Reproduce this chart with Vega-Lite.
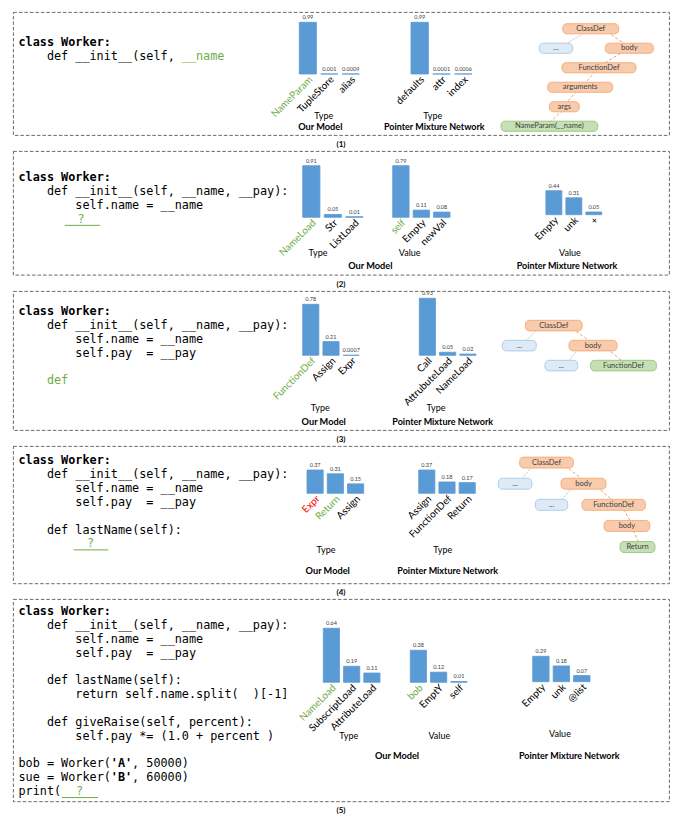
{
"$schema": "https://vega.github.io/schema/vega-lite/v6.json",
"background": "#ffffff",
"padding": {"left": 12, "top": 11, "right": 5, "bottom": 3},
"spacing": 0,
"config": {
  "view": {"stroke": "#595959", "strokeDash": [3.5, 2], "strokeWidth": 0.9},
  "title": {"font": "Lato", "fontSize": 8, "fontWeight": "bold", "color": "#000000", "orient": "bottom", "offset": 6, "anchor": "middle"}
},
"vconcat": [
{
  "width": 656, "height": 123,
  "title": {"text": "(1)"},
  "resolve": {"scale": {"x": "independent", "y": "independent"}},
  "layer": [
    {
      "data": {"values": [
        {"line": 0, "col": 0, "s": "class Worker:", "c": "k", "b": 1},
        {"line": 1, "col": 4, "s": "def __init__(self,", "c": "k", "b": 0},
        {"line": 1, "col": 23, "s": "__name", "c": "g", "b": 0}
      ]},
      "encoding": {
        "x": {"field": "col", "type": "quantitative", "axis": null, "scale": {"domain": [0, 100], "range": [5.5, 715.5]}},
        "y": {"field": "line", "type": "quantitative", "axis": null, "scale": {"domain": [0, 10], "range": [30.3, 170.3]}},
        "color": {"field": "c", "type": "nominal", "legend": null, "scale": {"domain": ["k", "g", "r"], "range": ["#000000", "#70ad47", "#ff0000"]}}
      },
      "layer": [
        {"transform": [{"filter": "datum.b == 0"}], "mark": {"type": "text", "align": "left", "baseline": "middle", "font": "DejaVu Sans Mono", "fontSize": 11.8}, "encoding": {"text": {"field": "s"}}},
        {"transform": [{"filter": "datum.b == 1"}], "mark": {"type": "text", "align": "left", "baseline": "middle", "font": "DejaVu Sans Mono", "fontSize": 11.8, "fontWeight": "bold"}, "encoding": {"text": {"field": "s"}}}
      ]
    },
    {
      "data": {"values": [
        {"cat": "NameParam", "v": 0.99, "lab": "0.99", "c": "g"},
        {"cat": "TupleStore", "v": 0.001, "lab": "0.001", "c": "k"},
        {"cat": "alias", "v": 0.0009, "lab": "0.0009", "c": "k"}
      ]},
      "encoding": {
        "x": {"field": "cat", "type": "nominal", "axis": null, "scale": {"type": "band", "domain": ["NameParam", "TupleStore", "alias"], "range": [286.3, 346.3], "paddingInner": 0.2, "paddingOuter": 0}},
        "y": {"field": "v", "type": "quantitative", "axis": null, "scale": {"domain": [0, 0.99], "range": [62, 10.3]}}
      },
      "layer": [
        {"mark": {"type": "bar", "fill": "#5b9bd5", "stroke": "#5b9bd5", "strokeWidth": 0.8}},
        {"mark": {"type": "text", "font": "Lato", "fontSize": 5.5, "fill": "#404040", "baseline": "bottom", "dy": -2}, "encoding": {"text": {"field": "lab"}}},
        {"mark": {"type": "text", "font": "Lato", "fontSize": 10, "angle": 315, "align": "right", "baseline": "middle", "xOffset": 3, "yOffset": 4}, "encoding": {"y": {"datum": 0}, "text": {"field": "cat"}, "color": {"field": "c", "type": "nominal", "legend": null, "scale": {"domain": ["k", "g", "r"], "range": ["#000000", "#70ad47", "#ff0000"]}}}},
        {"transform": [{"filter": "datum.cat == 'TupleStore'"}], "mark": {"type": "text", "text": "Type", "font": "Lato", "fontSize": 9, "fill": "#000000", "xOffset": -5.6, "yOffset": 41.7}, "encoding": {"y": {"datum": 0}}},
        {"transform": [{"filter": "datum.cat == 'TupleStore'"}], "mark": {"type": "text", "text": "Our Model", "font": "Lato", "fontSize": 9.2, "fontWeight": "bold", "fill": "#000000", "xOffset": -9, "yOffset": 53.3}, "encoding": {"y": {"datum": 0}}}
      ]
    },
    {
      "data": {"values": [
        {"cat": "defaults", "v": 0.99, "lab": "0.99", "c": "k"},
        {"cat": "attr", "v": 0.0001, "lab": "0.0001", "c": "k"},
        {"cat": "index", "v": 0.0006, "lab": "0.0006", "c": "k"}
      ]},
      "encoding": {
        "x": {"field": "cat", "type": "nominal", "axis": null, "scale": {"type": "band", "domain": ["defaults", "attr", "index"], "range": [398, 459], "paddingInner": 0.2, "paddingOuter": 0}},
        "y": {"field": "v", "type": "quantitative", "axis": null, "scale": {"domain": [0, 0.99], "range": [62, 10.3]}}
      },
      "layer": [
        {"mark": {"type": "bar", "fill": "#5b9bd5", "stroke": "#5b9bd5", "strokeWidth": 0.8}},
        {"mark": {"type": "text", "font": "Lato", "fontSize": 5.5, "fill": "#404040", "baseline": "bottom", "dy": -2}, "encoding": {"text": {"field": "lab"}}},
        {"mark": {"type": "text", "font": "Lato", "fontSize": 10, "angle": 315, "align": "right", "baseline": "middle", "xOffset": 3, "yOffset": 4}, "encoding": {"y": {"datum": 0}, "text": {"field": "cat"}, "color": {"field": "c", "type": "nominal", "legend": null, "scale": {"domain": ["k", "g", "r"], "range": ["#000000", "#70ad47", "#ff0000"]}}}},
        {"transform": [{"filter": "datum.cat == 'attr'"}], "mark": {"type": "text", "text": "Type", "font": "Lato", "fontSize": 9, "fill": "#000000", "xOffset": -8.8, "yOffset": 41.7}, "encoding": {"y": {"datum": 0}}},
        {"transform": [{"filter": "datum.cat == 'attr'"}], "mark": {"type": "text", "text": "Pointer Mixture Network", "font": "Lato", "fontSize": 9, "fontWeight": "bold", "fill": "#000000", "xOffset": -7.2, "yOffset": 53.3}, "encoding": {"y": {"datum": 0}}}
      ]
    },
    {
      "encoding": {
        "x": {"field": "x", "type": "quantitative", "axis": null, "scale": {"domain": [0, 656], "range": [0, 656]}},
        "y": {"field": "lv", "type": "ordinal", "axis": null, "scale": {"type": "band", "domain": [0, 1, 2, 3, 4, 5], "range": [7, 124], "paddingInner": 0.48, "paddingOuter": 0.24}}
      },
      "layer": [
        {"data": {"values": [{"e": "a", "lv": 0, "x": 578}, {"e": "a", "lv": 1, "x": 546}]}, "mark": {"type": "line", "stroke": "#a6a6a6", "strokeWidth": 0.8, "strokeDash": [1, 1]}, "encoding": {"detail": {"field": "e"}}},
        {"data": {"values": [
          {"e": "b", "lv": 1, "x": 618}, {"e": "b", "lv": 0, "x": 590},
          {"e": "c", "lv": 2, "x": 584}, {"e": "c", "lv": 1, "x": 616},
          {"e": "d", "lv": 3, "x": 568}, {"e": "d", "lv": 2, "x": 586},
          {"e": "f", "lv": 4, "x": 550}, {"e": "f", "lv": 3, "x": 567},
          {"e": "g", "lv": 5, "x": 533}, {"e": "g", "lv": 4, "x": 553}
        ]}, "mark": {"type": "line", "stroke": "#f4a26b", "strokeWidth": 1, "strokeDash": [3, 2]}, "encoding": {"detail": {"field": "e"}}},
        {"data": {"values": [
          {"n": "ClassDef", "lv": 0, "x0": 549.7, "x1": 605.7, "cx": 577.7, "t": "o"},
          {"n": "...", "lv": 1, "x0": 526.3, "x1": 559.7, "cx": 543, "t": "b"},
          {"n": "body", "lv": 1, "x0": 592.3, "x1": 640.3, "cx": 616.3, "t": "o"},
          {"n": "FunctionDef", "lv": 2, "x0": 549, "x1": 623, "cx": 586, "t": "o"},
          {"n": "arguments", "lv": 3, "x0": 534.7, "x1": 599.7, "cx": 567.2, "t": "o"},
          {"n": "args", "lv": 4, "x0": 536.3, "x1": 566.3, "cx": 551.3, "t": "o"},
          {"n": "NameParam(__name)", "lv": 5, "x0": 488, "x1": 584.7, "cx": 536.3, "t": "g"}
        ]},
         "layer": [
           {"mark": {"type": "rect", "cornerRadius": 4, "strokeWidth": 0.8}, "encoding": {"x": {"field": "x0", "type": "quantitative"}, "x2": {"field": "x1"}, "fill": {"field": "t", "type": "nominal", "legend": null, "scale": {"domain": ["o", "b", "g"], "range": ["#f8cbad", "#deebf7", "#c5e0b4"]}}, "stroke": {"field": "t", "type": "nominal", "legend": null, "scale": {"domain": ["o", "b", "g"], "range": ["#f4a26b", "#9dc3e6", "#8fbf6f"]}}}},
           {"mark": {"type": "text", "font": "Lato", "fontSize": 7.5, "fill": "#404040"}, "encoding": {"x": {"field": "cx", "type": "quantitative"}, "text": {"field": "n"}}}
         ]}
      ]
    }
  ]
},
{
  "width": 656, "height": 123.7,
  "title": {"text": "(2)"},
  "resolve": {"scale": {"x": "independent", "y": "independent"}},
  "layer": [
    {
      "data": {"values": [
        {"line": 0, "col": 0, "s": "class Worker:", "c": "k", "b": 1},
        {"line": 1, "col": 4, "s": "def __init__(self, __name, __pay):", "c": "k", "b": 0},
        {"line": 2, "col": 8, "s": "self.name = __name", "c": "k", "b": 0},
        {"line": 3, "col": 6.5, "col2": 11.5, "c": "g", "b": 2},
        {"line": 3, "col": 8.3, "s": "?", "c": "g", "b": 0}
      ]},
      "encoding": {
        "x": {"field": "col", "type": "quantitative", "axis": null, "scale": {"domain": [0, 100], "range": [5.5, 715.5]}},
        "y": {"field": "line", "type": "quantitative", "axis": null, "scale": {"domain": [0, 10], "range": [26.3, 164.8]}},
        "color": {"field": "c", "type": "nominal", "legend": null, "scale": {"domain": ["k", "g", "r"], "range": ["#000000", "#70ad47", "#ff0000"]}}
      },
      "layer": [
        {"transform": [{"filter": "datum.b == 0"}], "mark": {"type": "text", "align": "left", "baseline": "middle", "font": "DejaVu Sans Mono", "fontSize": 11.8}, "encoding": {"text": {"field": "s"}}},
        {"transform": [{"filter": "datum.b == 1"}], "mark": {"type": "text", "align": "left", "baseline": "middle", "font": "DejaVu Sans Mono", "fontSize": 11.8, "fontWeight": "bold"}, "encoding": {"text": {"field": "s"}}},
        {"transform": [{"filter": "datum.b == 2"}], "mark": {"type": "rule", "strokeWidth": 1, "yOffset": 6.5}, "encoding": {"x2": {"field": "col2"}}}
      ]
    },
    {
      "data": {"values": [
        {"cat": "NameLoad", "v": 0.91, "lab": "0.91", "c": "g"},
        {"cat": "Str", "v": 0.05, "lab": "0.05", "c": "k"},
        {"cat": "ListLoad", "v": 0.01, "lab": "0.01", "c": "k"}
      ]},
      "encoding": {
        "x": {"field": "cat", "type": "nominal", "axis": null, "scale": {"type": "band", "domain": ["NameLoad", "Str", "ListLoad"], "range": [289.7, 350], "paddingInner": 0.2, "paddingOuter": 0}},
        "y": {"field": "v", "type": "quantitative", "axis": null, "scale": {"domain": [0, 0.91], "range": [66.3, 14.7]}}
      },
      "layer": [
        {"mark": {"type": "bar", "fill": "#5b9bd5", "stroke": "#5b9bd5", "strokeWidth": 0.8}},
        {"mark": {"type": "text", "font": "Lato", "fontSize": 5.5, "fill": "#404040", "baseline": "bottom", "dy": -2}, "encoding": {"text": {"field": "lab"}}},
        {"mark": {"type": "text", "font": "Lato", "fontSize": 10, "angle": 315, "align": "right", "baseline": "middle", "xOffset": 3, "yOffset": 4}, "encoding": {"y": {"datum": 0}, "text": {"field": "cat"}, "color": {"field": "c", "type": "nominal", "legend": null, "scale": {"domain": ["k", "g", "r"], "range": ["#000000", "#70ad47", "#ff0000"]}}}},
        {"transform": [{"filter": "datum.cat == 'Str'"}], "mark": {"type": "text", "text": "Type", "font": "Lato", "fontSize": 9, "fill": "#000000", "xOffset": -14.8, "yOffset": 35.7}, "encoding": {"y": {"datum": 0}}},
        {"transform": [{"filter": "datum.cat == 'Str'"}], "mark": {"type": "text", "text": "Our Model", "font": "Lato", "fontSize": 9.2, "fontWeight": "bold", "fill": "#000000", "xOffset": 37.45, "yOffset": 48.4}, "encoding": {"y": {"datum": 0}}}
      ]
    },
    {
      "data": {"values": [
        {"cat": "self", "v": 0.79, "lab": "0.79", "c": "g"},
        {"cat": "Empty", "v": 0.11, "lab": "0.11", "c": "k"},
        {"cat": "newVal", "v": 0.08, "lab": "0.08", "c": "k"}
      ]},
      "encoding": {
        "x": {"field": "cat", "type": "nominal", "axis": null, "scale": {"type": "band", "domain": ["self", "Empty", "newVal"], "range": [379.7, 437], "paddingInner": 0.2, "paddingOuter": 0}},
        "y": {"field": "v", "type": "quantitative", "axis": null, "scale": {"domain": [0, 0.79], "range": [66.3, 14.7]}}
      },
      "layer": [
        {"mark": {"type": "bar", "fill": "#5b9bd5", "stroke": "#5b9bd5", "strokeWidth": 0.8}},
        {"mark": {"type": "text", "font": "Lato", "fontSize": 5.5, "fill": "#404040", "baseline": "bottom", "dy": -2}, "encoding": {"text": {"field": "lab"}}},
        {"mark": {"type": "text", "font": "Lato", "fontSize": 10, "angle": 315, "align": "right", "baseline": "middle", "xOffset": 3, "yOffset": 4}, "encoding": {"y": {"datum": 0}, "text": {"field": "cat"}, "color": {"field": "c", "type": "nominal", "legend": null, "scale": {"domain": ["k", "g", "r"], "range": ["#000000", "#70ad47", "#ff0000"]}}}},
        {"transform": [{"filter": "datum.cat == 'Empty'"}], "mark": {"type": "text", "text": "Value", "font": "Lato", "fontSize": 9, "fill": "#000000", "xOffset": -11.7, "yOffset": 35.7}, "encoding": {"y": {"datum": 0}}}
      ]
    },
    {
      "data": {"values": [
        {"cat": "Empty", "v": 0.44, "lab": "0.44", "c": "k"},
        {"cat": "unk", "v": 0.31, "lab": "0.31", "c": "k"},
        {"cat": "+", "v": 0.05, "lab": "0.05", "c": "k"}
      ]},
      "encoding": {
        "x": {"field": "cat", "type": "nominal", "axis": null, "scale": {"type": "band", "domain": ["Empty", "unk", "+"], "range": [532.9, 588.8], "paddingInner": 0.2, "paddingOuter": 0}},
        "y": {"field": "v", "type": "quantitative", "axis": null, "scale": {"domain": [0, 0.44], "range": [63.7, 39.7]}}
      },
      "layer": [
        {"mark": {"type": "bar", "fill": "#5b9bd5", "stroke": "#5b9bd5", "strokeWidth": 0.8}},
        {"mark": {"type": "text", "font": "Lato", "fontSize": 5.5, "fill": "#404040", "baseline": "bottom", "dy": -2}, "encoding": {"text": {"field": "lab"}}},
        {"mark": {"type": "text", "font": "Lato", "fontSize": 10, "angle": 315, "align": "right", "baseline": "middle", "xOffset": 3, "yOffset": 4}, "encoding": {"y": {"datum": 0}, "text": {"field": "cat"}, "color": {"field": "c", "type": "nominal", "legend": null, "scale": {"domain": ["k", "g", "r"], "range": ["#000000", "#70ad47", "#ff0000"]}}}},
        {"transform": [{"filter": "datum.cat == 'unk'"}], "mark": {"type": "text", "text": "Value", "font": "Lato", "fontSize": 9, "fill": "#000000", "xOffset": -3.9, "yOffset": 38.3}, "encoding": {"y": {"datum": 0}}},
        {"transform": [{"filter": "datum.cat == 'unk'"}], "mark": {"type": "text", "text": "Pointer Mixture Network", "font": "Lato", "fontSize": 9, "fontWeight": "bold", "fill": "#000000", "xOffset": -6.85, "yOffset": 51}, "encoding": {"y": {"datum": 0}}}
      ]
    }
  ]
},
{
  "width": 656, "height": 139,
  "title": {"text": "(3)"},
  "resolve": {"scale": {"x": "independent", "y": "independent"}},
  "layer": [
    {
      "data": {"values": [
        {"line": 0, "col": 0, "s": "class Worker:", "c": "k", "b": 1},
        {"line": 1, "col": 4, "s": "def __init__(self, __name, __pay):", "c": "k", "b": 0},
        {"line": 2, "col": 8, "s": "self.name = __name", "c": "k", "b": 0},
        {"line": 3, "col": 8, "s": "self.pay\u00a0\u00a0= __pay", "c": "k", "b": 0},
        {"line": 5, "col": 4, "s": "def", "c": "g", "b": 0}
      ]},
      "encoding": {
        "x": {"field": "col", "type": "quantitative", "axis": null, "scale": {"domain": [0, 100], "range": [5.5, 715.5]}},
        "y": {"field": "line", "type": "quantitative", "axis": null, "scale": {"domain": [0, 10], "range": [20, 158.5]}},
        "color": {"field": "c", "type": "nominal", "legend": null, "scale": {"domain": ["k", "g", "r"], "range": ["#000000", "#70ad47", "#ff0000"]}}
      },
      "layer": [
        {"transform": [{"filter": "datum.b == 0"}], "mark": {"type": "text", "align": "left", "baseline": "middle", "font": "DejaVu Sans Mono", "fontSize": 11.8}, "encoding": {"text": {"field": "s"}}},
        {"transform": [{"filter": "datum.b == 1"}], "mark": {"type": "text", "align": "left", "baseline": "middle", "font": "DejaVu Sans Mono", "fontSize": 11.8, "fontWeight": "bold"}, "encoding": {"text": {"field": "s"}}}
      ]
    },
    {
      "data": {"values": [
        {"cat": "FunctionDef", "v": 0.78, "lab": "0.78", "c": "g"},
        {"cat": "Assign", "v": 0.21, "lab": "0.21", "c": "k"},
        {"cat": "Expr", "v": 0.0007, "lab": "0.0007", "c": "k"}
      ]},
      "encoding": {
        "x": {"field": "cat", "type": "nominal", "axis": null, "scale": {"type": "band", "domain": ["FunctionDef", "Assign", "Expr"], "range": [289.7, 346.3], "paddingInner": 0.2, "paddingOuter": 0}},
        "y": {"field": "v", "type": "quantitative", "axis": null, "scale": {"domain": [0, 0.78], "range": [64.3, 13.3]}}
      },
      "layer": [
        {"mark": {"type": "bar", "fill": "#5b9bd5", "stroke": "#5b9bd5", "strokeWidth": 0.8}},
        {"mark": {"type": "text", "font": "Lato", "fontSize": 5.5, "fill": "#404040", "baseline": "bottom", "dy": -2}, "encoding": {"text": {"field": "lab"}}},
        {"mark": {"type": "text", "font": "Lato", "fontSize": 10, "angle": 315, "align": "right", "baseline": "middle", "xOffset": 3, "yOffset": 4}, "encoding": {"y": {"datum": 0}, "text": {"field": "cat"}, "color": {"field": "c", "type": "nominal", "legend": null, "scale": {"domain": ["k", "g", "r"], "range": ["#000000", "#70ad47", "#ff0000"]}}}},
        {"transform": [{"filter": "datum.cat == 'Assign'"}], "mark": {"type": "text", "text": "Type", "font": "Lato", "fontSize": 9, "fill": "#000000", "xOffset": -10.7, "yOffset": 53}, "encoding": {"y": {"datum": 0}}},
        {"transform": [{"filter": "datum.cat == 'Assign'"}], "mark": {"type": "text", "text": "Our Model", "font": "Lato", "fontSize": 9.2, "fontWeight": "bold", "fill": "#000000", "xOffset": -7.3, "yOffset": 66.3}, "encoding": {"y": {"datum": 0}}}
      ]
    },
    {
      "data": {"values": [
        {"cat": "Call", "v": 0.93, "lab": "0.93", "c": "k"},
        {"cat": "AttrubuteLoad", "v": 0.05, "lab": "0.05", "c": "k"},
        {"cat": "NameLoad", "v": 0.02, "lab": "0.02", "c": "k"}
      ]},
      "encoding": {
        "x": {"field": "cat", "type": "nominal", "axis": null, "scale": {"type": "band", "domain": ["Call", "AttrubuteLoad", "NameLoad"], "range": [406.3, 463], "paddingInner": 0.2, "paddingOuter": 0}},
        "y": {"field": "v", "type": "quantitative", "axis": null, "scale": {"domain": [0, 0.93], "range": [64.3, 7.3]}}
      },
      "layer": [
        {"mark": {"type": "bar", "fill": "#5b9bd5", "stroke": "#5b9bd5", "strokeWidth": 0.8}},
        {"mark": {"type": "text", "font": "Lato", "fontSize": 5.5, "fill": "#404040", "baseline": "bottom", "dy": -2}, "encoding": {"text": {"field": "lab"}}},
        {"mark": {"type": "text", "font": "Lato", "fontSize": 10, "angle": 315, "align": "right", "baseline": "middle", "xOffset": 3, "yOffset": 4}, "encoding": {"y": {"datum": 0}, "text": {"field": "cat"}, "color": {"field": "c", "type": "nominal", "legend": null, "scale": {"domain": ["k", "g", "r"], "range": ["#000000", "#70ad47", "#ff0000"]}}}},
        {"transform": [{"filter": "datum.cat == 'AttrubuteLoad'"}], "mark": {"type": "text", "text": "Type", "font": "Lato", "fontSize": 9, "fill": "#000000", "xOffset": -11.65, "yOffset": 53}, "encoding": {"y": {"datum": 0}}},
        {"transform": [{"filter": "datum.cat == 'AttrubuteLoad'"}], "mark": {"type": "text", "text": "Pointer Mixture Network", "font": "Lato", "fontSize": 9, "fontWeight": "bold", "fill": "#000000", "xOffset": -4.95, "yOffset": 66.3}, "encoding": {"y": {"datum": 0}}}
      ]
    },
    {
      "encoding": {
        "x": {"field": "x", "type": "quantitative", "axis": null, "scale": {"domain": [0, 656], "range": [0, 656]}},
        "y": {"field": "lv", "type": "ordinal", "axis": null, "scale": {"type": "band", "domain": [0, 1, 2], "range": [24.6, 84.6], "paddingInner": 0.47, "paddingOuter": 0.235}}
      },
      "layer": [
        {"data": {"values": [{"e": "a", "lv": 0, "x": 528}, {"e": "a", "lv": 1, "x": 508}, {"e": "h", "lv": 1, "x": 568}, {"e": "h", "lv": 2, "x": 552}]}, "mark": {"type": "line", "stroke": "#a6a6a6", "strokeWidth": 0.8, "strokeDash": [1, 1]}, "encoding": {"detail": {"field": "e"}}},
        {"data": {"values": [
          {"e": "b", "lv": 1, "x": 583}, {"e": "b", "lv": 0, "x": 555},
          {"e": "c", "lv": 2, "x": 615}, {"e": "c", "lv": 1, "x": 590}
        ]}, "mark": {"type": "line", "stroke": "#f4a26b", "strokeWidth": 1, "strokeDash": [3, 2]}, "encoding": {"detail": {"field": "e"}}},
        {"data": {"values": [
          {"n": "ClassDef", "lv": 0, "x0": 512.4, "x1": 569.2, "cx": 540.8, "t": "o"},
          {"n": "...", "lv": 1, "x0": 489.3, "x1": 523.3, "cx": 506.3, "t": "b"},
          {"n": "body", "lv": 1, "x0": 556, "x1": 604, "cx": 580, "t": "o"},
          {"n": "...", "lv": 2, "x0": 532, "x1": 564.8, "cx": 548.4, "t": "b"},
          {"n": "FunctionDef", "lv": 2, "x0": 577.6, "x1": 643.4, "cx": 610.5, "t": "g"}
        ]},
         "layer": [
           {"mark": {"type": "rect", "cornerRadius": 4, "strokeWidth": 0.8}, "encoding": {"x": {"field": "x0", "type": "quantitative"}, "x2": {"field": "x1"}, "fill": {"field": "t", "type": "nominal", "legend": null, "scale": {"domain": ["o", "b", "g"], "range": ["#f8cbad", "#deebf7", "#c5e0b4"]}}, "stroke": {"field": "t", "type": "nominal", "legend": null, "scale": {"domain": ["o", "b", "g"], "range": ["#f4a26b", "#9dc3e6", "#8fbf6f"]}}}},
           {"mark": {"type": "text", "font": "Lato", "fontSize": 7.5, "fill": "#404040"}, "encoding": {"x": {"field": "cx", "type": "quantitative"}, "text": {"field": "n"}}}
         ]}
      ]
    }
  ]
},
{
  "width": 656, "height": 137.3,
  "title": {"text": "(4)"},
  "resolve": {"scale": {"x": "independent", "y": "independent"}},
  "layer": [
    {
      "data": {"values": [
        {"line": 0, "col": 0, "s": "class Worker:", "c": "k", "b": 1},
        {"line": 1, "col": 4, "s": "def __init__(self, __name, __pay):", "c": "k", "b": 0},
        {"line": 2, "col": 8, "s": "self.name = __name", "c": "k", "b": 0},
        {"line": 3, "col": 8, "s": "self.pay\u00a0\u00a0= __pay", "c": "k", "b": 0},
        {"line": 5, "col": 4, "s": "def lastName(self):", "c": "k", "b": 0},
        {"line": 6, "col": 7.75, "col2": 12.65, "c": "g", "b": 2},
        {"line": 6, "col": 9.65, "s": "?", "c": "g", "b": 0}
      ]},
      "encoding": {
        "x": {"field": "col", "type": "quantitative", "axis": null, "scale": {"domain": [0, 100], "range": [5.5, 715.5]}},
        "y": {"field": "line", "type": "quantitative", "axis": null, "scale": {"domain": [0, 10], "range": [14.3, 152.8]}},
        "color": {"field": "c", "type": "nominal", "legend": null, "scale": {"domain": ["k", "g", "r"], "range": ["#000000", "#70ad47", "#ff0000"]}}
      },
      "layer": [
        {"transform": [{"filter": "datum.b == 0"}], "mark": {"type": "text", "align": "left", "baseline": "middle", "font": "DejaVu Sans Mono", "fontSize": 11.8}, "encoding": {"text": {"field": "s"}}},
        {"transform": [{"filter": "datum.b == 1"}], "mark": {"type": "text", "align": "left", "baseline": "middle", "font": "DejaVu Sans Mono", "fontSize": 11.8, "fontWeight": "bold"}, "encoding": {"text": {"field": "s"}}},
        {"transform": [{"filter": "datum.b == 2"}], "mark": {"type": "rule", "strokeWidth": 1, "yOffset": 6.5}, "encoding": {"x2": {"field": "col2"}}}
      ]
    },
    {
      "data": {"values": [
        {"cat": "Expr", "v": 0.37, "lab": "0.37", "c": "r"},
        {"cat": "Return", "v": 0.31, "lab": "0.31", "c": "g"},
        {"cat": "Assign", "v": 0.15, "lab": "0.15", "c": "k"}
      ]},
      "encoding": {
        "x": {"field": "cat", "type": "nominal", "axis": null, "scale": {"type": "band", "domain": ["Expr", "Return", "Assign"], "range": [294, 350.7], "paddingInner": 0.2, "paddingOuter": 0}},
        "y": {"field": "v", "type": "quantitative", "axis": null, "scale": {"domain": [0, 0.37], "range": [47.3, 24]}}
      },
      "layer": [
        {"mark": {"type": "bar", "fill": "#5b9bd5", "stroke": "#5b9bd5", "strokeWidth": 0.8}},
        {"mark": {"type": "text", "font": "Lato", "fontSize": 5.5, "fill": "#404040", "baseline": "bottom", "dy": -2}, "encoding": {"text": {"field": "lab"}}},
        {"mark": {"type": "text", "font": "Lato", "fontSize": 10, "angle": 315, "align": "right", "baseline": "middle", "xOffset": 3, "yOffset": 4}, "encoding": {"y": {"datum": 0}, "text": {"field": "cat"}, "color": {"field": "c", "type": "nominal", "legend": null, "scale": {"domain": ["k", "g", "r"], "range": ["#000000", "#70ad47", "#ff0000"]}}}},
        {"transform": [{"filter": "datum.cat == 'Return'"}], "mark": {"type": "text", "text": "Type", "font": "Lato", "fontSize": 9, "fill": "#000000", "xOffset": -9.35, "yOffset": 57}, "encoding": {"y": {"datum": 0}}},
        {"transform": [{"filter": "datum.cat == 'Return'"}], "mark": {"type": "text", "text": "Our Model", "font": "Lato", "fontSize": 9.2, "fontWeight": "bold", "fill": "#000000", "xOffset": -7.65, "yOffset": 77.7}, "encoding": {"y": {"datum": 0}}}
      ]
    },
    {
      "data": {"values": [
        {"cat": "Assign", "v": 0.37, "lab": "0.37", "c": "k"},
        {"cat": "FunctionDef", "v": 0.18, "lab": "0.18", "c": "k"},
        {"cat": "Return", "v": 0.17, "lab": "0.17", "c": "k"}
      ]},
      "encoding": {
        "x": {"field": "cat", "type": "nominal", "axis": null, "scale": {"type": "band", "domain": ["Assign", "FunctionDef", "Return"], "range": [405.7, 462.3], "paddingInner": 0.2, "paddingOuter": 0}},
        "y": {"field": "v", "type": "quantitative", "axis": null, "scale": {"domain": [0, 0.37], "range": [47.3, 24]}}
      },
      "layer": [
        {"mark": {"type": "bar", "fill": "#5b9bd5", "stroke": "#5b9bd5", "strokeWidth": 0.8}},
        {"mark": {"type": "text", "font": "Lato", "fontSize": 5.5, "fill": "#404040", "baseline": "bottom", "dy": -2}, "encoding": {"text": {"field": "lab"}}},
        {"mark": {"type": "text", "font": "Lato", "fontSize": 10, "angle": 315, "align": "right", "baseline": "middle", "xOffset": 3, "yOffset": 4}, "encoding": {"y": {"datum": 0}, "text": {"field": "cat"}, "color": {"field": "c", "type": "nominal", "legend": null, "scale": {"domain": ["k", "g", "r"], "range": ["#000000", "#70ad47", "#ff0000"]}}}},
        {"transform": [{"filter": "datum.cat == 'FunctionDef'"}], "mark": {"type": "text", "text": "Type", "font": "Lato", "fontSize": 9, "fill": "#000000", "xOffset": -4.3, "yOffset": 57}, "encoding": {"y": {"datum": 0}}},
        {"transform": [{"filter": "datum.cat == 'FunctionDef'"}], "mark": {"type": "text", "text": "Pointer Mixture Network", "font": "Lato", "fontSize": 9, "fontWeight": "bold", "fill": "#000000", "xOffset": 0.7, "yOffset": 77.7}, "encoding": {"y": {"datum": 0}}}
      ]
    },
    {
      "encoding": {
        "x": {"field": "x", "type": "quantitative", "axis": null, "scale": {"domain": [0, 656], "range": [0, 656]}},
        "y": {"field": "lv", "type": "ordinal", "axis": null, "scale": {"type": "band", "domain": [0, 1, 2, 3, 4], "range": [6.05, 111.6], "paddingInner": 0.48, "paddingOuter": 0.24}}
      },
      "layer": [
        {"data": {"values": [{"e": "a", "lv": 0, "x": 522}, {"e": "a", "lv": 1, "x": 505}, {"e": "h", "lv": 1, "x": 562}, {"e": "h", "lv": 2, "x": 545}]}, "mark": {"type": "line", "stroke": "#a6a6a6", "strokeWidth": 0.8, "strokeDash": [1, 1]}, "encoding": {"detail": {"field": "e"}}},
        {"data": {"values": [
          {"e": "b", "lv": 1, "x": 575}, {"e": "b", "lv": 0, "x": 548},
          {"e": "c", "lv": 2, "x": 605}, {"e": "c", "lv": 1, "x": 580},
          {"e": "d", "lv": 3, "x": 620}, {"e": "d", "lv": 2, "x": 608},
          {"e": "f", "lv": 4, "x": 628}, {"e": "f", "lv": 3, "x": 618}
        ]}, "mark": {"type": "line", "stroke": "#f4a26b", "strokeWidth": 1, "strokeDash": [3, 2]}, "encoding": {"detail": {"field": "e"}}},
        {"data": {"values": [
          {"n": "ClassDef", "lv": 0, "x0": 506.7, "x1": 560.4, "cx": 533.5, "t": "o"},
          {"n": "...", "lv": 1, "x0": 485.3, "x1": 518.9, "cx": 502.1, "t": "b"},
          {"n": "body", "lv": 1, "x0": 548, "x1": 593, "cx": 570.5, "t": "o"},
          {"n": "...", "lv": 2, "x0": 522.4, "x1": 554.7, "cx": 538.5, "t": "b"},
          {"n": "FunctionDef", "lv": 2, "x0": 569, "x1": 632.4, "cx": 600.7, "t": "o"},
          {"n": "body", "lv": 3, "x0": 591, "x1": 636.8, "cx": 613.9, "t": "o"},
          {"n": "Return", "lv": 4, "x0": 607, "x1": 642, "cx": 624.5, "t": "g"}
        ]},
         "layer": [
           {"mark": {"type": "rect", "cornerRadius": 4, "strokeWidth": 0.8}, "encoding": {"x": {"field": "x0", "type": "quantitative"}, "x2": {"field": "x1"}, "fill": {"field": "t", "type": "nominal", "legend": null, "scale": {"domain": ["o", "b", "g"], "range": ["#f8cbad", "#deebf7", "#c5e0b4"]}}, "stroke": {"field": "t", "type": "nominal", "legend": null, "scale": {"domain": ["o", "b", "g"], "range": ["#f4a26b", "#9dc3e6", "#8fbf6f"]}}}},
           {"mark": {"type": "text", "font": "Lato", "fontSize": 7.5, "fill": "#404040"}, "encoding": {"x": {"field": "cx", "type": "quantitative"}, "text": {"field": "n"}}}
         ]}
      ]
    }
  ]
},
{
  "width": 656, "height": 202.3,
  "title": {"text": "(5)"},
  "resolve": {"scale": {"x": "independent", "y": "independent"}},
  "layer": [
    {
      "data": {"values": [
        {"line": 0, "col": 0, "s": "class Worker:", "c": "k", "b": 1},
        {"line": 1, "col": 4, "s": "def __init__(self, __name, __pay):", "c": "k", "b": 0},
        {"line": 2, "col": 8, "s": "self.name = __name", "c": "k", "b": 0},
        {"line": 3, "col": 8, "s": "self.pay\u00a0\u00a0= __pay", "c": "k", "b": 0},
        {"line": 5, "col": 4, "s": "def lastName(self):", "c": "k", "b": 0},
        {"line": 6, "col": 8, "s": "return self.name.split(\u00a0\u00a0)[-1]", "c": "k", "b": 0},
        {"line": 8, "col": 4, "s": "def giveRaise(self, percent):", "c": "k", "b": 0},
        {"line": 9, "col": 8, "s": "self.pay *= (1.0 + percent )", "c": "k", "b": 0},
        {"line": 11, "col": 0, "s": "bob = Worker(", "c": "k", "b": 0},
        {"line": 11, "col": 13, "s": "'A'", "c": "k", "b": 1},
        {"line": 11, "col": 16, "s": ", 50000)", "c": "k", "b": 0},
        {"line": 12, "col": 0, "s": "sue = Worker(", "c": "k", "b": 0},
        {"line": 12, "col": 13, "s": "'B'", "c": "k", "b": 1},
        {"line": 12, "col": 16, "s": ", 60000)", "c": "k", "b": 0},
        {"line": 13, "col": 0, "s": "print(", "c": "k", "b": 0},
        {"line": 13, "col": 6.1, "col2": 11.2, "c": "g", "b": 2},
        {"line": 13, "col": 8.1, "s": "?", "c": "g", "b": 0}
      ]},
      "encoding": {
        "x": {"field": "col", "type": "quantitative", "axis": null, "scale": {"domain": [0, 100], "range": [5.5, 715.5]}},
        "y": {"field": "line", "type": "quantitative", "axis": null, "scale": {"domain": [0, 10], "range": [12, 150.5]}},
        "color": {"field": "c", "type": "nominal", "legend": null, "scale": {"domain": ["k", "g", "r"], "range": ["#000000", "#70ad47", "#ff0000"]}}
      },
      "layer": [
        {"transform": [{"filter": "datum.b == 0"}], "mark": {"type": "text", "align": "left", "baseline": "middle", "font": "DejaVu Sans Mono", "fontSize": 11.8}, "encoding": {"text": {"field": "s"}}},
        {"transform": [{"filter": "datum.b == 1"}], "mark": {"type": "text", "align": "left", "baseline": "middle", "font": "DejaVu Sans Mono", "fontSize": 11.8, "fontWeight": "bold"}, "encoding": {"text": {"field": "s"}}},
        {"transform": [{"filter": "datum.b == 2"}], "mark": {"type": "rule", "strokeWidth": 1, "yOffset": 6.5}, "encoding": {"x2": {"field": "col2"}}}
      ]
    },
    {
      "data": {"values": [
        {"cat": "NameLoad", "v": 0.64, "lab": "0.64", "c": "g"},
        {"cat": "SubscriptLoad", "v": 0.19, "lab": "0.19", "c": "k"},
        {"cat": "AttributeLoad", "v": 0.11, "lab": "0.11", "c": "k"}
      ]},
      "encoding": {
        "x": {"field": "cat", "type": "nominal", "axis": null, "scale": {"type": "band", "domain": ["NameLoad", "SubscriptLoad", "AttributeLoad"], "range": [310.3, 367], "paddingInner": 0.2, "paddingOuter": 0}},
        "y": {"field": "v", "type": "quantitative", "axis": null, "scale": {"domain": [0, 0.64], "range": [83.3, 29.3]}}
      },
      "layer": [
        {"mark": {"type": "bar", "fill": "#5b9bd5", "stroke": "#5b9bd5", "strokeWidth": 0.8}},
        {"mark": {"type": "text", "font": "Lato", "fontSize": 5.5, "fill": "#404040", "baseline": "bottom", "dy": -2}, "encoding": {"text": {"field": "lab"}}},
        {"mark": {"type": "text", "font": "Lato", "fontSize": 10, "angle": 315, "align": "right", "baseline": "middle", "xOffset": 3, "yOffset": 4}, "encoding": {"y": {"datum": 0}, "text": {"field": "cat"}, "color": {"field": "c", "type": "nominal", "legend": null, "scale": {"domain": ["k", "g", "r"], "range": ["#000000", "#70ad47", "#ff0000"]}}}},
        {"transform": [{"filter": "datum.cat == 'SubscriptLoad'"}], "mark": {"type": "text", "text": "Type", "font": "Lato", "fontSize": 9, "fill": "#000000", "xOffset": -2.95, "yOffset": 53.4}, "encoding": {"y": {"datum": 0}}},
        {"transform": [{"filter": "datum.cat == 'SubscriptLoad'"}], "mark": {"type": "text", "text": "Our Model", "font": "Lato", "fontSize": 9.2, "fontWeight": "bold", "fill": "#000000", "xOffset": 45.35, "yOffset": 74}, "encoding": {"y": {"datum": 0}}}
      ]
    },
    {
      "data": {"values": [
        {"cat": "bob", "v": 0.38, "lab": "0.38", "c": "g"},
        {"cat": "EmptY", "v": 0.12, "lab": "0.12", "c": "k"},
        {"cat": "self", "v": 0.01, "lab": "0.01", "c": "k"}
      ]},
      "encoding": {
        "x": {"field": "cat", "type": "nominal", "axis": null, "scale": {"type": "band", "domain": ["bob", "EmptY", "self"], "range": [397.3, 454], "paddingInner": 0.2, "paddingOuter": 0}},
        "y": {"field": "v", "type": "quantitative", "axis": null, "scale": {"domain": [0, 0.64], "range": [83.3, 29.3]}}
      },
      "layer": [
        {"mark": {"type": "bar", "fill": "#5b9bd5", "stroke": "#5b9bd5", "strokeWidth": 0.8}},
        {"mark": {"type": "text", "font": "Lato", "fontSize": 5.5, "fill": "#404040", "baseline": "bottom", "dy": -2}, "encoding": {"text": {"field": "lab"}}},
        {"mark": {"type": "text", "font": "Lato", "fontSize": 10, "angle": 315, "align": "right", "baseline": "middle", "xOffset": 3, "yOffset": 4}, "encoding": {"y": {"datum": 0}, "text": {"field": "cat"}, "color": {"field": "c", "type": "nominal", "legend": null, "scale": {"domain": ["k", "g", "r"], "range": ["#000000", "#70ad47", "#ff0000"]}}}},
        {"transform": [{"filter": "datum.cat == 'EmptY'"}], "mark": {"type": "text", "text": "Value", "font": "Lato", "fontSize": 9, "fill": "#000000", "xOffset": 0.65, "yOffset": 53.4}, "encoding": {"y": {"datum": 0}}}
      ]
    },
    {
      "data": {"values": [
        {"cat": "Empty", "v": 0.29, "lab": "0.29", "c": "k"},
        {"cat": "unk", "v": 0.18, "lab": "0.18", "c": "k"},
        {"cat": "@list", "v": 0.07, "lab": "0.07", "c": "k"}
      ]},
      "encoding": {
        "x": {"field": "cat", "type": "nominal", "axis": null, "scale": {"type": "band", "domain": ["Empty", "unk", "@list"], "range": [519.7, 577], "paddingInner": 0.2, "paddingOuter": 0}},
        "y": {"field": "v", "type": "quantitative", "axis": null, "scale": {"domain": [0, 0.29], "range": [82.7, 57.3]}}
      },
      "layer": [
        {"mark": {"type": "bar", "fill": "#5b9bd5", "stroke": "#5b9bd5", "strokeWidth": 0.8}},
        {"mark": {"type": "text", "font": "Lato", "fontSize": 5.5, "fill": "#404040", "baseline": "bottom", "dy": -2}, "encoding": {"text": {"field": "lab"}}},
        {"mark": {"type": "text", "font": "Lato", "fontSize": 10, "angle": 315, "align": "right", "baseline": "middle", "xOffset": 3, "yOffset": 4}, "encoding": {"y": {"datum": 0}, "text": {"field": "cat"}, "color": {"field": "c", "type": "nominal", "legend": null, "scale": {"domain": ["k", "g", "r"], "range": ["#000000", "#70ad47", "#ff0000"]}}}},
        {"transform": [{"filter": "datum.cat == 'unk'"}], "mark": {"type": "text", "text": "Value", "font": "Lato", "fontSize": 9, "fill": "#000000", "xOffset": -1.35, "yOffset": 52.3}, "encoding": {"y": {"datum": 0}}},
        {"transform": [{"filter": "datum.cat == 'unk'"}], "mark": {"type": "text", "text": "Pointer Mixture Network", "font": "Lato", "fontSize": 9, "fontWeight": "bold", "fill": "#000000", "xOffset": 7.95, "yOffset": 74.6}, "encoding": {"y": {"datum": 0}}}
      ]
    }
  ]
}
]
}
